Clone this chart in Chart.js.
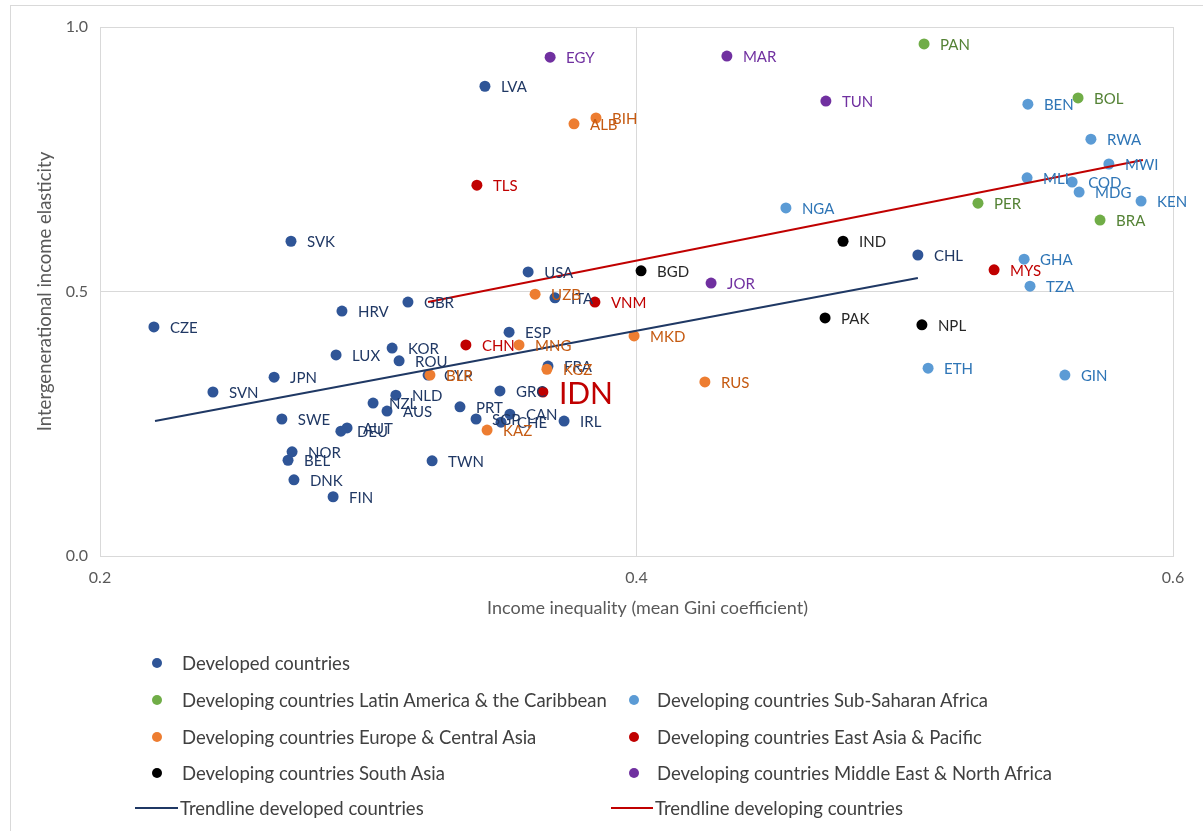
<!DOCTYPE html>
<html>
<head>
<meta charset="utf-8">
<script src="https://cdn.jsdelivr.net/npm/chart.js@4.4.1/dist/chart.umd.min.js"></script>
<style>
  html, body { margin: 0; padding: 0; background: #fff; overflow: hidden; }
  #wrap { position: relative; width: 1203px; height: 831px; }
  #frame { position: absolute; left: 10px; top: 5px; width: 1300px; height: 900px;
           border-left: 1px solid #D9D9D9; border-top: 1px solid #D9D9D9; pointer-events: none; }
  #chartBox { position: absolute; left: 0; top: 0; width: 1203px; height: 831px; }
  .lg { position: absolute; font-family: Lato, "Open Sans", sans-serif; font-size: 18.5px; color: #404040;
        white-space: nowrap; line-height: 22px; transform: translateY(-50%); }
  .dot { position: absolute; width: 10px; height: 10px; border-radius: 50%; transform: translate(-50%, -50%); }
  .ln { position: absolute; height: 2px; transform: translateY(-50%); }
</style>
</head>
<body>
<div id="wrap">
  <div id="frame"></div>
  <div id="chartBox"><canvas id="c"></canvas></div>
  <div id="legend"></div>
</div>
<script>
// ---------------- DATA ----------------
const developedNames = ["CZE","SVN","JPN","SVK","SWE","NOR","BEL","DNK","FIN","LUX","HRV","AUT","DEU","NZL","AUS","NLD","KOR","ROU","GBR","CYP","TWN","PRT","SGP","CHE","GRC","CAN","ESP","USA","ITA","FRA","IRL","LVA","CHL"];
const developedGini = [0.2201,0.2421,0.2649,0.2712,0.2678,0.2716,0.2701,0.2723,0.2869,0.2880,0.2902,0.2921,0.2898,0.3018,0.3070,0.3103,0.3089,0.3115,0.3148,0.3223,0.3238,0.3342,0.3402,0.3495,0.3491,0.3528,0.3525,0.3596,0.3696,0.3670,0.3730,0.3435,0.5049];
const developedIGE  = [0.433,0.310,0.338,0.595,0.259,0.197,0.181,0.144,0.112,0.380,0.463,0.242,0.236,0.289,0.274,0.304,0.393,0.369,0.480,0.342,0.180,0.282,0.259,0.253,0.312,0.268,0.423,0.537,0.488,0.359,0.255,0.888,0.569];

const lacNames = ["PAN","BOL","PER","BRA"];
const lacGini  = [0.5072,0.5646,0.5273,0.5728];
const lacIGE   = [0.968,0.866,0.667,0.635];

const ssaNames = ["BEN","RWA","MWI","MLI","COD","MDG","KEN","NGA","GHA","TZA","ETH","GIN"];
const ssaGini  = [0.5459,0.5694,0.5761,0.5456,0.5624,0.5650,0.5881,0.4557,0.5445,0.5467,0.5087,0.5597];
const ssaIGE   = [0.854,0.788,0.741,0.715,0.707,0.688,0.671,0.658,0.561,0.510,0.355,0.342];

const ecaNames = ["BIH","ALB","UZB","MNG","MKD","KGZ","BLR","KAZ","RUS"];
const ecaGini  = [0.3849,0.3767,0.3622,0.3562,0.3991,0.3666,0.3230,0.3443,0.4255];
const ecaIGE   = [0.828,0.817,0.495,0.399,0.416,0.353,0.342,0.238,0.329];

const eapNames = ["TLS","VNM","CHN","IDN","MYS"];
const eapGini  = [0.3405,0.3845,0.3364,0.3651,0.5333];
const eapIGE   = [0.701,0.480,0.399,0.310,0.541];

const saNames = ["BGD","IND","PAK","NPL"];
const saGini  = [0.4017,0.4770,0.4703,0.5064];
const saIGE   = [0.539,0.595,0.450,0.437];

const menaNames = ["EGY","MAR","TUN","JOR"];
const menaGini  = [0.3678,0.4337,0.4706,0.4278];
const menaIGE   = [0.943,0.945,0.860,0.516];

const trendDevGini = [0.2205,0.5049];
const trendDevIGE  = [0.255,0.5255];
const trendDvgGini = [0.3223,0.5888];
const trendDvgIGE  = [0.480,0.7486];

const xTicks = [0.2,0.4,0.6];
const yTicks = [0.0,0.5,1.0];

const xTitle = "Income inequality (mean Gini coefficient)";
const yTitle = "Intergenerational income elasticity";

const seriesNames = [
  "Developed countries",
  "Developing countries Latin America & the Caribbean",
  "Developing countries Sub-Saharan Africa",
  "Developing countries Europe & Central Asia",
  "Developing countries East Asia & Pacific",
  "Developing countries South Asia",
  "Developing countries Middle East & North Africa",
  "Trendline developed countries",
  "Trendline developing countries"
];

// ---------------- BUILD ----------------
function pts(xs, ys) { return xs.map((x, i) => ({x: x, y: ys[i]})); }

const groups = [
  {names: developedNames, xs: developedGini, ys: developedIGE, color: "#2F5597", label: "#203864"},
  {names: lacNames, xs: lacGini, ys: lacIGE, color: "#70AD47", label: "#548235"},
  {names: ssaNames, xs: ssaGini, ys: ssaIGE, color: "#5B9BD5", label: "#2E75B6"},
  {names: ecaNames, xs: ecaGini, ys: ecaIGE, color: "#ED7D31", label: "#C55A11"},
  {names: eapNames, xs: eapGini, ys: eapIGE, color: "#C00000", label: "#C00000"},
  {names: saNames, xs: saGini, ys: saIGE, color: "#000000", label: "#262626"},
  {names: menaNames, xs: menaGini, ys: menaIGE, color: "#7030A0", label: "#7030A0"}
];

const datasets = groups.map((g, i) => ({
  type: "scatter",
  label: seriesNames[i],
  data: pts(g.xs, g.ys),
  names: g.names,
  labelColor: g.label,
  backgroundColor: g.color,
  borderColor: g.color,
  borderWidth: 0,
  pointRadius: 5.5,
  pointHoverRadius: 5.5,
  order: 10 - i
}));
datasets.push({
  type: "line", label: seriesNames[7], data: pts(trendDevGini, trendDevIGE),
  borderColor: "#1F3864", borderWidth: 2, pointRadius: 0, fill: false, tension: 0, order: 1
});
datasets.push({
  type: "line", label: seriesNames[8], data: pts(trendDvgGini, trendDvgIGE),
  borderColor: "#C00000", borderWidth: 2, pointRadius: 0, fill: false, tension: 0, order: 1
});

const bigLabel = {IDN: 30};
const FONT = "Lato, 'Open Sans', sans-serif";

const labelPlugin = {
  id: "pointLabels",
  afterDatasetsDraw(chart) {
    const ctx = chart.ctx;
    ctx.save();
    ctx.textAlign = "left";
    ctx.textBaseline = "middle";
    chart.data.datasets.forEach((ds, di) => {
      if (!ds.names) return;
      const meta = chart.getDatasetMeta(di);
      meta.data.forEach((el, i) => {
        const name = ds.names[i];
        const size = bigLabel[name] || 15;
        ctx.font = size + "px " + FONT;
        ctx.fillStyle = ds.labelColor;
        ctx.fillText(name, el.x + 16, el.y + (size > 20 ? 2 : 1));
      });
    });
    // x axis title, slightly right of plot centre as in the reference
    const ca = chart.chartArea;
    ctx.font = "18px " + FONT;
    ctx.fillStyle = "#595959";
    ctx.textAlign = "center";
    ctx.fillText(xTitle, (ca.left + ca.right) / 2 + 11, ca.bottom + 52);
    ctx.restore();
  }
};

new Chart(document.getElementById("c"), {
  data: { datasets: datasets },
  options: {
    responsive: true,
    maintainAspectRatio: false,
    animation: false,
    layout: { padding: { left: 0, top: 27, right: 30, bottom: 0 } },
    plugins: { legend: { display: false }, tooltip: { enabled: false } },
    scales: {
      x: {
        type: "linear", min: 0.2, max: 0.6,
        afterFit(s) { s.height = 275; },
        afterBuildTicks(s) { s.ticks = xTicks.map(v => ({value: v})); },
        grid: { color: "#D9D9D9", lineWidth: 1, drawTicks: false },
        border: { color: "#D9D9D9" },
        ticks: { padding: 12, color: "#595959", font: { family: FONT, size: 16 },
                 callback: v => v.toFixed(1) },
        title: { display: false }
      },
      y: {
        type: "linear", min: 0, max: 1,
        afterFit(s) { s.width = 100; },
        afterBuildTicks(s) { s.ticks = yTicks.map(v => ({value: v})); },
        grid: { color: "#D9D9D9", lineWidth: 1, drawTicks: false },
        border: { color: "#D9D9D9" },
        ticks: { padding: 12, color: "#595959", font: { family: FONT, size: 16 },
                 callback: v => v.toFixed(1) },
        title: { display: true, text: yTitle, color: "#595959",
                 font: { family: FONT, size: 18.5 }, padding: { top: 34, bottom: 0 } }
      }
    }
  },
  plugins: [labelPlugin]
});

// ---------------- LEGEND (HTML) ----------------
const legendItems = [
  {t: 0, kind: "dot", color: groups[0].color, row: 0, col: 0},
  {t: 1, kind: "dot", color: groups[1].color, row: 1, col: 0},
  {t: 2, kind: "dot", color: groups[2].color, row: 1, col: 1},
  {t: 3, kind: "dot", color: groups[3].color, row: 2, col: 0},
  {t: 4, kind: "dot", color: groups[4].color, row: 2, col: 1},
  {t: 5, kind: "dot", color: groups[5].color, row: 3, col: 0},
  {t: 6, kind: "dot", color: groups[6].color, row: 3, col: 1},
  {t: 7, kind: "line", color: "#1F3864", row: 4, col: 0},
  {t: 8, kind: "line", color: "#C00000", row: 4, col: 1}
];
const rowY = [663, 700, 737, 773, 808];
const colDot = [157, 634];
const colText = [182, 657];
const colLine = [[135, 178], [611, 653]];
const lg = document.getElementById("legend");
legendItems.forEach(it => {
  const y = rowY[it.row];
  if (it.kind === "dot") {
    const d = document.createElement("div");
    d.className = "dot";
    d.style.left = colDot[it.col] + "px"; d.style.top = y + "px"; d.style.background = it.color;
    lg.appendChild(d);
  } else {
    const l = document.createElement("div");
    l.className = "ln";
    l.style.left = colLine[it.col][0] + "px"; l.style.top = y + "px";
    l.style.width = (colLine[it.col][1] - colLine[it.col][0]) + "px"; l.style.background = it.color;
    lg.appendChild(l);
  }
  const t = document.createElement("div");
  t.className = "lg";
  t.style.left = (it.kind === "line" ? colLine[it.col][1] + 2 : colText[it.col]) + "px";
  t.style.top = y + "px";
  t.textContent = seriesNames[it.t];
  lg.appendChild(t);
});
</script>
</body>
</html>
